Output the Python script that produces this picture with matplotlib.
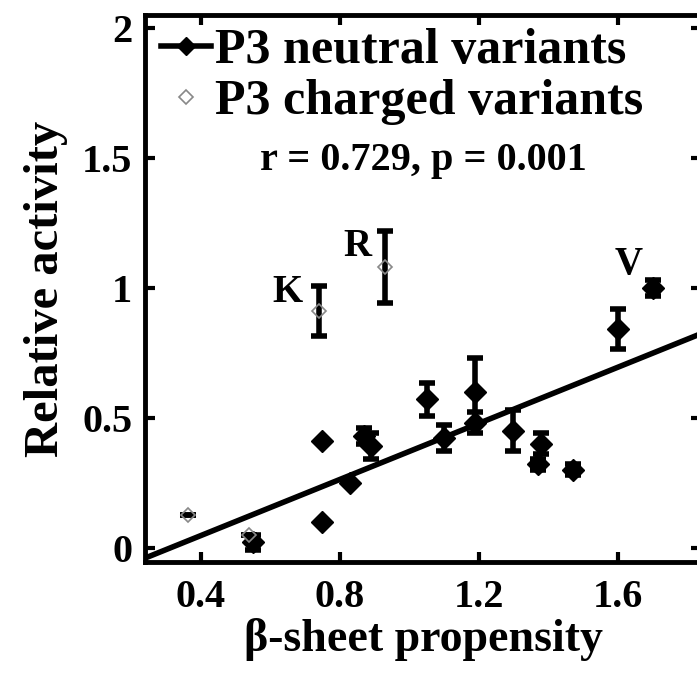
import matplotlib
matplotlib.use("Agg")
import matplotlib.pyplot as plt
import numpy as np

plt.rcParams['font.family'] = ['Liberation Serif', 'DejaVu Serif']
plt.rcParams['font.weight'] = 'bold'
plt.rcParams['axes.labelweight'] = 'bold'

# P3 neutral variants
neutral_x = [0.55, 0.75, 0.75, 0.83, 0.87, 0.89, 1.05, 1.10, 1.19, 1.19, 1.30, 1.38, 1.37, 1.47, 1.60, 1.70]
neutral_y = [0.02, 0.41, 0.10, 0.25, 0.43, 0.39, 0.57, 0.42, 0.60, 0.48, 0.45, 0.40, 0.32, 0.30, 0.84, 1.00]
neutral_err = [0.03, 0.00, 0.00, 0.00, 0.03, 0.05, 0.065, 0.05, 0.13, 0.04, 0.08, 0.04, 0.02, 0.02, 0.077, 0.03]

# P3 charged variants
charged_x = [0.365, 0.54, 0.74, 0.93]
charged_y = [0.125, 0.05, 0.91, 1.08]
charged_err = [0.0, 0.0, 0.095, 0.14]

# regression line
fit_slope = 0.54
fit_icpt = -0.17

fig = plt.figure(figsize=(6.97, 6.77), dpi=100)
ax = fig.add_axes([0.208, 0.170, 0.798, 0.808])

xs = np.array([0.24, 1.84])
ax.plot(xs, fit_slope * xs + fit_icpt, color='black', lw=4, zorder=2)

ax.errorbar(neutral_x, neutral_y, yerr=neutral_err, fmt='D', color='black',
            markersize=11, elinewidth=4, capsize=6, capthick=4, zorder=3)
ax.errorbar(charged_x, charged_y, yerr=charged_err, fmt='none', ecolor='black',
            elinewidth=4, capsize=6, capthick=4, zorder=3)
ax.plot(charged_x, charged_y, 'D', mfc='none', mec='#888888', mew=1.2,
        markersize=7, linestyle='none', zorder=4)

ax.text(0.65, 0.98, "K", fontsize=28, ha='center', va='center')
ax.text(0.85, 1.16, "R", fontsize=28, ha='center', va='center')
ax.text(1.63, 1.09, "V", fontsize=28, ha='center', va='center')
ax.text(1.04, 1.49, "r = 0.729, p = 0.001", fontsize=29, ha='center', va='center')

# legend handles
h1, = ax.plot([], [], '-D', color='black', lw=4, markersize=9)
h2, = ax.plot([], [], 'D', mfc='none', mec='#888888', mew=1.2, markersize=7)
ax.legend([h1, h2], ["P3 neutral variants", "P3 charged variants"],
          loc='upper left', bbox_to_anchor=(-0.025, 1.03), frameon=False,
          fontsize=36, handlelength=1.0, handletextpad=0.08, labelspacing=0.1,
          borderaxespad=0.2)

ax.set_xlim(0.24, 1.84)
ax.set_ylim(-0.055, 2.05)
ax.set_xticks([0.4, 0.8, 1.2, 1.6])
ax.set_xticklabels(["0.4", "0.8", "1.2", "1.6"])
ax.set_yticks([0, 0.5, 1, 1.5, 2])
ax.set_yticklabels(["0", "0.5", "1", "1.5", "2"])
ax.tick_params(direction='in', length=7, width=3, labelsize=29, top=True, right=True)
ax.tick_params(axis='x', pad=12)
ax.tick_params(axis='y', pad=9)
for s in ax.spines.values():
    s.set_linewidth(3.5)

ax.set_xlabel("β-sheet propensity", fontsize=33, labelpad=2)
ax.set_ylabel("Relative activity", fontsize=35, labelpad=10)

fig.savefig("out.png", dpi=100)
